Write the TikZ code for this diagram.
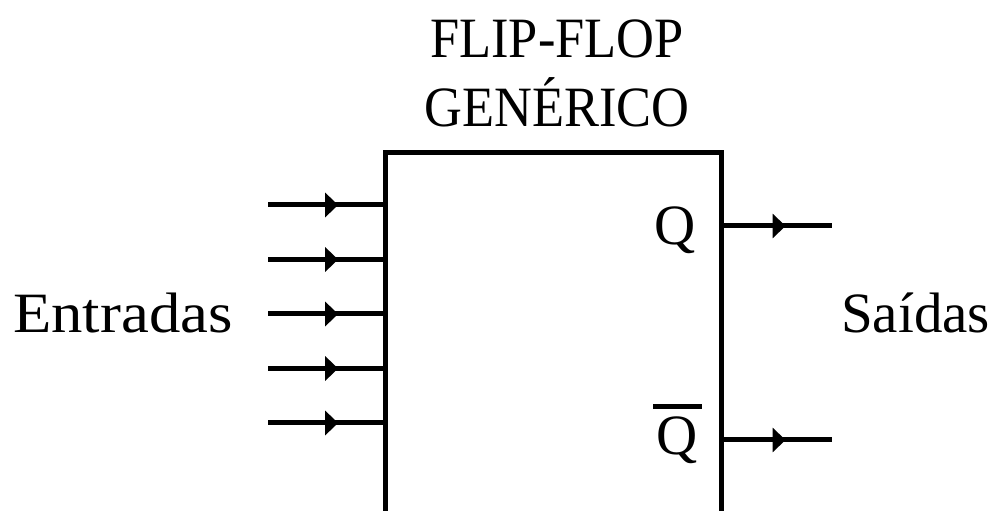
\documentclass[tikz,border=0pt]{standalone}
\usepackage{fontspec}
\setmainfont{Liberation Serif}
\newfontfamily\widefont[FakeStretch=1.1]{Liberation Serif}
\newfontfamily\narrowfont[FakeStretch=0.92]{Liberation Serif}
\usetikzlibrary{arrows.meta,decorations.markings}
\begin{document}
\begin{tikzpicture}[x=1pt,y=1pt,
  wire/.style={line width=5pt},
  midarrow/.style={wire,postaction={decorate},decoration={markings,
    mark=at position #1 with {\arrow{Triangle[length=13pt,width=24pt]}}}},
  lbl/.style={inner sep=0pt,font=\fontsize{57pt}{69pt}\selectfont},
  ffbox/.style={draw,line width=5pt,inner sep=0pt,minimum width=336pt,minimum height=400pt,anchor=north west}]
\useasboundingbox (0,0) rectangle (1004,511);
\clip (0,0) rectangle (1004,511);
\fill[white] (0,0) rectangle (1004,511);
% box
\node[ffbox] (ff) at (383,361) {};
% title
\node[lbl,anchor=base,align=center,font=\fontsize{57pt}{69pt}\narrowfont] (title) at (557,384) {FLIP-FLOP\\GENÉRICO};
% inputs
\coordinate (i1) at (268,306);
\coordinate (i2) at (268,251.5);
\coordinate (i3) at (268,197);
\coordinate (i4) at (268,142.5);
\coordinate (i5) at (268,88);
\foreach \n in {1,...,5}{
  \draw[midarrow=0.61] (i\n) -- (i\n -| ff.west);
}
% outputs
\coordinate (o1) at (832,285);
\coordinate (o2) at (832,71);
\draw[midarrow=0.57] (o1 -| ff.east) -- (o1);
\draw[midarrow=0.57] (o2 -| ff.east) -- (o2);
% pin labels
\node[lbl,anchor=base] (q) at (675,266) {Q};
\node[lbl,anchor=base] (qb) at (677.5,56) {Q};
\draw[line width=5pt] ([xshift=-24.5pt,yshift=48pt]qb.base) -- ([xshift=24.5pt,yshift=48pt]qb.base);
% side labels
\node[lbl,anchor=base west,font=\fontsize{57pt}{69pt}\widefont] (ent) at (13,178) {Entradas};
\node[lbl,anchor=base west] (sai) at (841,178) {Saídas};
\end{tikzpicture}
\end{document}
